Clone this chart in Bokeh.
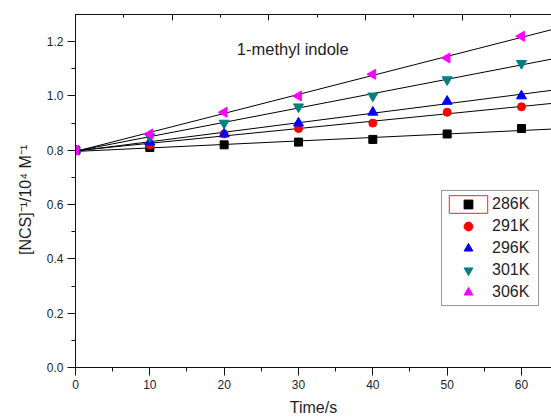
import math
import numpy as np
from bokeh.plotting import figure
from bokeh.models import (Range1d, LinearAxis, SingleIntervalTicker, NumeralTickFormatter,
                          Legend, LegendItem, Label, CustomLabelingPolicy)
from bokeh.embed import file_html
from bokeh.resources import INLINE

# ---------------- data ----------------
time_s = [0, 10, 20, 30, 40, 50, 60]
series_labels = ["286K", "291K", "296K", "301K", "306K"]
ncs_286K = [0.80, 0.81, 0.82, 0.83, 0.84, 0.86, 0.88]
ncs_291K = [0.80, 0.82, 0.86, 0.88, 0.90, 0.94, 0.96]
ncs_296K = [0.80, 0.83, 0.86, 0.90, 0.94, 0.98, 1.00]
ncs_301K = [0.80, 0.85, 0.90, 0.96, 1.00, 1.06, 1.12]
ncs_306K = [0.80, 0.86, 0.94, 1.00, 1.08, 1.14, 1.22]
fit_range = [0, 65]
annotation_text = "1-methyl indole"
x_label = "Time/s"
y_label = "[NCS]\u207b\u00b9/10\u2074 M\u207b\u00b9"

series_values = [ncs_286K, ncs_291K, ncs_296K, ncs_301K, ncs_306K]
colors = ["#000000", "#FF0000", "#0000FF", "#008080", "#FF00FF"]
markers = ["square", "circle", "triangle", "inverted_triangle", "triangle"]
angles = [0, 0, 0, 0, math.pi / 2]
sizes = [8, 8, 10, 10, 10]

FONT = "Liberation Sans"
TXT = "#1e1e28"
AX = "#111111"

p = figure(width=551, height=419, output_backend="svg", toolbar_location=None,
           x_range=Range1d(0, 64.04), y_range=Range1d(0, 1.3),
           min_border_left=75, min_border_right=0, min_border_top=14, min_border_bottom=52)
p.xgrid.visible = False
p.ygrid.visible = False
p.outline_line_color = None
p.background_fill_color = "white"
p.border_fill_color = "white"

for ax in (p.xaxis[0], p.yaxis[0]):
    ax.axis_line_color = AX
    ax.major_tick_line_color = AX
    ax.minor_tick_line_color = AX
    ax.major_tick_in = 0
    ax.major_tick_out = 8
    ax.minor_tick_in = 0
    ax.minor_tick_out = 4
    ax.major_label_text_font = FONT
    ax.major_label_text_font_size = "12px"
    ax.major_label_text_color = TXT
    ax.major_label_standoff = 4
    ax.axis_label_text_font = FONT
    ax.axis_label_text_font_size = "16px"
    ax.axis_label_text_font_style = "normal"
    ax.axis_label_text_color = TXT

p.xaxis.ticker = SingleIntervalTicker(interval=10, num_minor_ticks=2)
p.yaxis.ticker = SingleIntervalTicker(interval=0.2, num_minor_ticks=2)
p.yaxis.formatter = NumeralTickFormatter(format="0.0")
p.xaxis.axis_label = x_label
# trailing no-break spaces nudge the rotated label slightly downward, as in the reference
p.yaxis.axis_label = y_label + "\u00a0" * 4
p.xaxis.axis_label_standoff = 7
p.yaxis.axis_label_standoff = 10

# top frame axis with inward ticks and no labels
p.extra_x_ranges = {"top": Range1d(0, 4.925)}
top_axis = LinearAxis(x_range_name="top",
                      ticker=SingleIntervalTicker(interval=1, num_minor_ticks=2),
                      major_tick_in=6, major_tick_out=0, minor_tick_in=3, minor_tick_out=0,
                      major_label_text_font_size="0px", major_label_standoff=0,
                      major_label_policy=CustomLabelingPolicy(code="return new Set()"),
                      axis_line_color=AX, major_tick_line_color=AX,
                      minor_tick_line_color=AX)
p.add_layout(top_axis, "above")

# selection-style red box shown around the first legend symbol
hl = p.rect(x=[time_s[0]], y=[ncs_286K[0]], width=0, height=0,
            fill_alpha=0, line_color="#FF2020", line_width=1)

# fit lines
for vals in series_values:
    coef = np.polyfit(time_s, vals, 1)
    p.line(fit_range, list(np.polyval(coef, fit_range)), line_color="black", line_width=1)

# markers
items = []
for i, (lab, vals, c, m, a, s) in enumerate(zip(series_labels, series_values, colors,
                                                   markers, angles, sizes)):
    r = p.scatter(time_s, vals, marker=m, angle=a, size=s, fill_color=c, line_color=c)
    rends = [hl, r] if i == 0 else [r]
    items.append(LegendItem(label=lab, renderers=rends))

legend = Legend(items=items, location=(366, 61), orientation="vertical",
                padding=2, spacing=0, margin=0,
                glyph_width=48, glyph_height=22, label_height=22, label_width=44,
                label_standoff=0, label_text_font=FONT, label_text_font_size="16px",
                label_text_color=TXT,
                border_line_color="#333333", border_line_width=1,
                background_fill_color="white", background_fill_alpha=1)
p.add_layout(legend)

p.add_layout(Label(x=21.7, y=1.174, text=annotation_text, text_font=FONT,
                   text_font_size="16.5px", text_baseline="middle", text_align="left",
                   text_color=TXT))

open("out.html", "w").write(file_html(p, INLINE))
